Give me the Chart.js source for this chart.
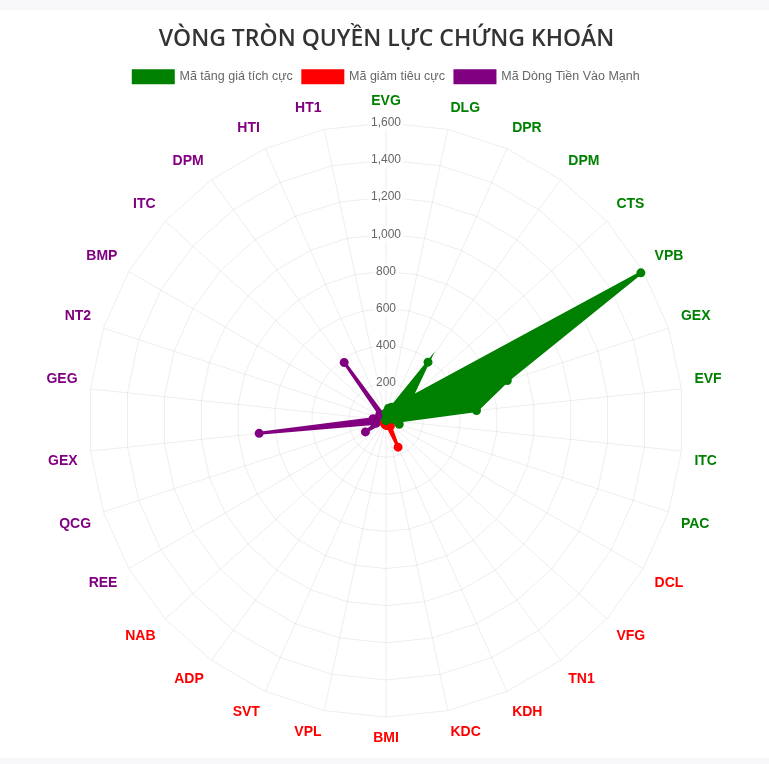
<!DOCTYPE html>
<html lang="vi">
<head>
<meta charset="utf-8">
<title>Vòng tròn quyền lực chứng khoán</title>
<script src="https://cdn.jsdelivr.net/npm/chart.js@4.4.1/dist/chart.umd.min.js"></script>
<style>
  html, body { margin: 0; padding: 0; background: #f8f8fb; }
  #chart-box { position: absolute; left: 0; top: 10px; width: 769px; height: 748px; background: #fff; }
</style>
</head>
<body>
<div id="chart-box"><canvas id="power-ring"></canvas></div>
<script>
'use strict'

// **** DATA ****
let stockLabels = [
  'EVG', 'DLG', 'DPR', 'DPM', 'CTS', 'VPB', 'GEX', 'EVF', 'ITC', 'PAC',
  'DCL', 'VFG', 'TN1', 'KDH', 'KDC', 'BMI', 'VPL', 'SVT', 'ADP', 'NAB',
  'REE', 'QCG', 'GEX', 'GEG', 'NT2', 'BMP', 'ITC', 'DPM', 'HTI', 'HT1'
];

// values, 0 where the ticker belongs to another group
let riseValues = [40, 65, 75, 385, 185, 1585, 687, 490, 60, 75,
  0, 0, 0, 0, 0, 0, 0, 0, 0, 0,
  0, 0, 0, 0, 0, 0, 0, 0, 0, 0];
let fallValues = [0, 0, 0, 0, 0, 0, 0, 0, 0, 0,
  20, 25, 40, 160, 30, 28, 25, 20, 15, 10,
  0, 0, 0, 0, 0, 0, 0, 0, 0, 0];
let flowValues = [0, 0, 0, 0, 0, 0, 0, 0, 0, 0,
  0, 0, 0, 0, 0, 0, 0, 0, 0, 0,
  128, 55, 687, 70, 40, 30, 45, 383, 20, 15];

let tickMax = 1600;
let tickStep = 200;

let riseColor = 'green';
let fallColor = 'red';
let flowColor = 'purple';

// **** HELPER FUNCTIONS ****

function labelColor(ctx) {
  if (ctx.index < 10) return riseColor;
  if (ctx.index < 20) return fallColor;
  return flowColor;
}

function makeSet(label, values, color) {
  return {
    label: label,
    data: values,
    fill: true,
    backgroundColor: color,
    borderColor: color,
    borderWidth: 3,
    pointBackgroundColor: color,
    pointBorderColor: color,
    pointRadius: 3
  };
}

// **** EXECUTABLE CODE ****

const ctx = document.getElementById('power-ring');
const powerChart = new Chart(ctx, {
  type: 'radar',
  data: {
    labels: stockLabels,
    datasets: [
      makeSet('Mã tăng giá tích cực', riseValues, riseColor),
      makeSet('Mã giảm tiêu cực', fallValues, fallColor),
      makeSet('Mã Dòng Tiền Vào Mạnh', flowValues, flowColor)
    ]
  },
  options: {
    responsive: true,
    maintainAspectRatio: false,
    animation: false,
    layout: {
      padding: { top: 3, bottom: 10, left: 4 }
    },
    plugins: {
      title: {
        display: true,
        text: 'VÒNG TRÒN QUYỀN LỰC CHỨNG KHOÁN',
        color: '#333',
        font: { family: '"Open Sans"', size: 23, weight: '600' },
        padding: { top: 13, bottom: 7 }
      },
      legend: {
        labels: {
          color: '#666',
          boxHeight: 12,
          font: { family: '"Liberation Sans", Arial', size: 12.5 }
        }
      }
    },
    scales: {
      r: {
        min: 0,
        max: tickMax,
        grid: { color: 'rgba(0, 0, 0, 0.07)' },
        angleLines: { color: 'rgba(0, 0, 0, 0.07)' },
        ticks: {
          stepSize: tickStep,
          color: '#666',
          font: { family: '"Liberation Sans", Arial', size: 12 }
        },
        pointLabels: {
          color: labelColor,
          font: { family: '"Liberation Sans", Arial', size: 14, weight: 'bold' }
        }
      }
    }
  }
});
</script>
</body>
</html>
